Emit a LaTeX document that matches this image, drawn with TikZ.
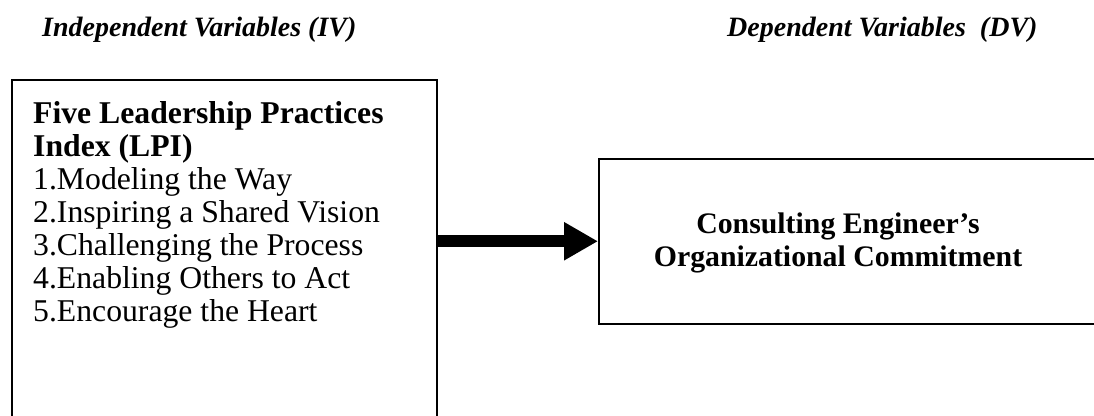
\documentclass[tikz,border=0pt]{standalone}
\usepackage{fontspec}
\setmainfont{Liberation Serif}
\usetikzlibrary{arrows.meta,positioning}

\begin{document}
\begin{tikzpicture}[x=1pt,y=-1pt]
\tikzstyle{varbox}=[draw=black,line width=1.5pt,rectangle,inner sep=0pt]
\tikzstyle{vartitle}=[inner sep=0pt,font=\fontsize{28}{32}\selectfont\bfseries\itshape]
\tikzstyle{flowarrow}=[line width=12pt,-{Triangle[length=34pt,width=36pt]}]
\useasboundingbox (0,0) rectangle (1094,415);
\clip (0,0) rectangle (1094,415);
% column headings
\node [vartitle,anchor=base west] (ivtitle) at (42,36) {Independent Variables (IV)};
\node [vartitle,anchor=base west] (dvtitle) at (727,36) {Dependent Variables\ \ (DV)};
% boxes
\node [varbox,anchor=north west,minimum width=425pt,minimum height=360pt] (ivbox) at (11,79) {};
\node [varbox,anchor=north west,minimum width=520pt,minimum height=165pt] (dvbox) at (598,158) {};
\node [anchor=north west,inner sep=0pt,align=left,font=\fontsize{31.7}{33}\selectfont] (ivtext) at (33,101)
  {\textbf{Five Leadership Practices}\\
   \textbf{Index (LPI)}\\
   1.Modeling the Way\\
   2.Inspiring a Shared Vision\\
   3.Challenging the Process\\
   4.Enabling Others to Act\\
   5.Encourage the Heart};
\node [anchor=north,inner sep=0pt,align=center,font=\fontsize{29.8}{33}\selectfont\bfseries] (dvtext) at (838,213)
  {Consulting Engineer’s\\Organizational Commitment};
% link
\draw [flowarrow] (ivbox.east |- dvbox.west) -- (dvbox.west);
\end{tikzpicture}
\end{document}
